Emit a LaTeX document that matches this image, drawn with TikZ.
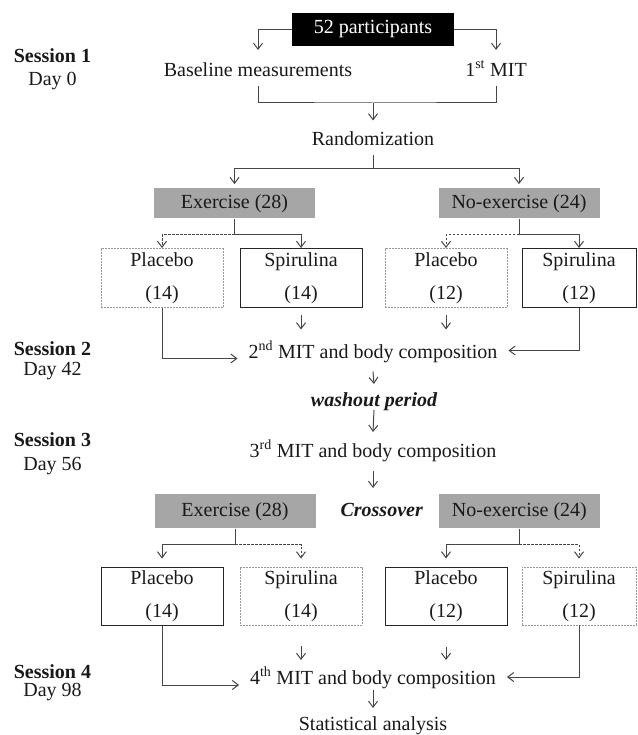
\documentclass[tikz,border=0pt]{standalone}
\usepackage{fontspec}
\setmainfont{Liberation Serif}
\usetikzlibrary{arrows.meta,calc}
\definecolor{boxgray}{RGB}{166,166,166}
\definecolor{linec}{RGB}{70,70,70}
\definecolor{txtc}{RGB}{25,25,25}
\begin{document}
\begin{tikzpicture}[x=1pt,y=-1pt,
  every node/.style={font=\fontsize{20}{33}\selectfont, text=txtc},
  txt/.style={inner sep=0pt, text height=13.5pt, text depth=4.5pt, outer xsep=11pt, outer ysep=9pt},
  lbl/.style={inner sep=0pt, text height=13.5pt, text depth=4.5pt},
  sess/.style={lbl, font=\fontsize{20}{24}\selectfont\bfseries},
  emph/.style={txt, font=\fontsize{20}{24}\selectfont\bfseries\itshape},
  arr/.style={draw=linec, line width=1pt, -{Straight Barb[length=6pt,width=9pt]}},
  ln/.style={draw=linec, line width=1pt},
  dsh/.style={dash pattern=on 2.5pt off 1.5pt},
  blackbox/.style={fill=black, text=white, minimum width=161.5pt, minimum height=33pt, inner sep=0pt},
  graybox/.style={fill=boxgray, minimum width=161pt, inner sep=0pt},
  solidbox/.style={draw=black!85, line width=1pt, minimum width=122pt, minimum height=59pt, align=center, inner sep=0pt},
  dashbox/.style={draw=black!40, line width=0.9pt, dash pattern=on 2pt off 1pt, minimum width=122pt, minimum height=59pt, align=center, inner sep=0pt},
]
\useasboundingbox (0,0) rectangle (637,735);

% session labels
\node[sess] (s1) at (52.5,58) {Session 1};
\node[lbl]  (d1) at (52.5,81) {Day 0};
\node[sess] (s2) at (52.5,350.5) {Session 2};
\node[lbl]  (d2) at (52.5,370.5) {Day 42};
\node[sess] (s3) at (52.5,442) {Session 3};
\node[lbl]  (d3) at (52.5,465.5) {Day 56};
\node[sess] (s4) at (52.5,673.5) {Session 4};
\node[lbl]  (d4) at (52.5,692) {Day 98};

% top
\node[blackbox] (p52) at (373,29.5) {52 participants};
\node[txt] (base) at (258,72) {Baseline measurements};
\node[txt] (mit1) at (496,72) {1\textsuperscript{st} MIT};
\node[txt] (rand) at (373,141.5) {Randomization};

% first allocation
\node[graybox, minimum height=30pt] (ex1) at (234.5,203.3) {Exercise (28)};
\node[graybox, minimum height=30pt] (noex1) at (519,203.3) {No-exercise (24)};
\node[dashbox] (pl1) at (162,278) {Placebo\\(14)};
\node[solidbox] (sp1) at (301,278) {Spirulina\\(14)};
\node[dashbox] (pl2) at (446,278) {Placebo\\(12)};
\node[solidbox, minimum width=114pt] (sp2) at (579,278) {Spirulina\\(12)};

\node[txt] (mit2) at (373,353.5) {2\textsuperscript{nd} MIT and body composition};
\node[emph] (wash) at (374,402) {washout period};
\node[txt] (mit3) at (373,453) {3\textsuperscript{rd} MIT and body composition};

% crossover allocation
\node[graybox, minimum height=34pt] (ex2) at (235,511.3) {Exercise (28)};
\node[emph] (cross) at (381.7,512) {Crossover};
\node[graybox, minimum height=34pt] (noex2) at (519.4,511.3) {No-exercise (24)};
\node[solidbox, minimum height=58pt] (pl3) at (162,596) {Placebo\\(14)};
\node[dashbox, minimum height=58pt] (sp3) at (301,596) {Spirulina\\(14)};
\node[solidbox, minimum height=58pt] (pl4) at (446,596) {Placebo\\(12)};
\node[dashbox, minimum height=58pt, minimum width=114pt] (sp4) at (579,596) {Spirulina\\(12)};

\node[txt] (mit4) at (373,680) {4\textsuperscript{th} MIT and body composition};
\node[txt] (stat) at (373,726) {Statistical analysis};

% connectors: top
\draw[arr] (p52.west) -| ($(base.north)+(0,-4)$);
\draw[arr] (p52.east) -| ($(mit1.north)+(0,-4)$);
\coordinate (j1) at (373,103);
\draw[ln] ($(base.south)+(0,-4)$) |- (j1) -| ($(mit1.south)+(0,-4)$);
\draw[arr] (j1) -- ($(rand.north)+(0,-3)$);
\coordinate (j2) at (373,169);
\draw[ln] ($(rand.south)+(0,-4)$) -- (j2);
\draw[arr] (j2) -| ($(ex1.north)+(0,-4)$);
\draw[arr] (j2) -| ($(noex1.north)+(0,-4)$);

% first forks
\coordinate (j3) at ($(ex1.south)+(0,16)$);
\draw[ln] (ex1.south) -- (j3);
\draw[arr,dsh] (j3) -| (pl1.north);
\draw[arr] (j3) -| (sp1.north);
\coordinate (j4) at ($(noex1.south)+(0,16)$);
\draw[ln] (noex1.south) -- (j4);
\draw[arr,dsh] (j4) -| (pl2.north);
\draw[arr] (j4) -| (sp2.north);

% to session 2
\draw[arr] ($(sp1.south)+(0,7)$) -- ($(sp1.south |- mit2.north)+(0,-6)$);
\draw[arr] ($(pl2.south)+(0,7)$) -- ($(pl2.south |- mit2.north)+(0,-6)$);
\draw[arr] (pl1.south) |- ($(mit2.west)+(0,5)$);
\draw[arr] (sp2.south) |- ($(mit2.east)+(0,-3)$);

\draw[arr] (mit2.south) -- (wash.north);
\draw[arr] ($(wash.south)+(0,-10)$) -- ($(mit3.north)+(0,-3)$);
\draw[arr] (mit3.south) -- ($(mit3.south |- cross.north)+(0,-6)$);

% crossover forks
\coordinate (j5) at ($(ex2.south)+(0,16)$);
\draw[ln] (ex2.south) -- (j5);
\draw[arr] (j5) -| ($(pl3.north)+(0,-8)$);
\draw[arr,dsh] (j5) -| ($(sp3.north)+(0,-8)$);
\coordinate (j6) at ($(noex2.south)+(0,16)$);
\draw[ln] (noex2.south) -- (j6);
\draw[arr] (j6) -| ($(pl4.north)+(0,-8)$);
\draw[arr,dsh] (j6) -| ($(sp4.north)+(0,-8)$);

% to session 4
\draw[arr] ($(sp3.south)+(0,21)$) -- ($(sp3.south |- mit4.north)+(0,-2)$);
\draw[arr] ($(pl4.south)+(0,21)$) -- ($(pl4.south |- mit4.north)+(0,-2)$);
\draw[arr] (pl3.south) |- ($(mit4.west)+(0,5)$);
\draw[arr] (sp4.south) |- ($(mit4.east)+(0,-3)$);
\draw[arr] ($(mit4.south)+(0,-8)$) -- (stat.north);
\end{tikzpicture}
\end{document}
